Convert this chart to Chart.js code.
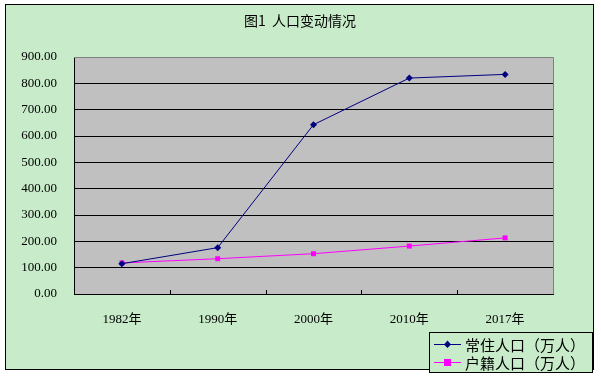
<!DOCTYPE html>
<html>
<head>
<meta charset="utf-8">
<script src="https://cdn.jsdelivr.net/npm/chart.js@4"></script>
<style>
  html, body { margin: 0; padding: 0; background: #ffffff; }
  #wrap { position: relative; width: 601px; height: 376px; }
</style>
</head>
<body>
<div id="wrap"><canvas id="line-chart_pop" width="601" height="376"></canvas></div>
<script>
// 데이터
var years = ["1982年", "1990年", "2000年", "2010年", "2017年"];
var residentPop = [115, 176, 643, 820, 834];   // 常住人口（万人）
var registeredPop = [118, 134, 153, 182, 213]; // 户籍人口（万人）
var yTicks = [0, 100, 200, 300, 400, 500, 600, 700, 800, 900];
var chartTitle = "图1  人口变动情况";

var fontSerif = "'Liberation Serif', 'Noto Sans CJK SC', serif";
var fontCjk = "'Noto Sans CJK SC', sans-serif";

// 배경, 테두리, 범례 직접 그리기
var framePlugin = {
    id: 'frame',
    beforeDraw: function (chart) {
        var ctx = chart.ctx;
        var a = chart.chartArea;
        ctx.save();
        ctx.fillStyle = '#ffffff';
        ctx.fillRect(0, 0, chart.width, chart.height);
        ctx.fillStyle = '#c8ecca';
        ctx.fillRect(5, 4, 588, 365);
        ctx.strokeStyle = '#000000';
        ctx.lineWidth = 1;
        ctx.strokeRect(5.5, 4.5, 588, 365);
        ctx.fillStyle = '#c0c0c0';
        ctx.fillRect(a.left, a.top, a.right - a.left, a.bottom - a.top);
        // 제목
        ctx.fillStyle = '#000000';
        ctx.font = '14px ' + fontCjk;
        ctx.textAlign = 'center';
        ctx.textBaseline = 'middle';
        ctx.fillText(chartTitle, 300, 21);
        ctx.restore();
    },
    afterDraw: function (chart) {
        var ctx = chart.ctx;
        var a = chart.chartArea;
        var xs = chart.scales.x;
        ctx.save();
        // 오른쪽, 위쪽 테두리 (회색)
        ctx.strokeStyle = '#808080';
        ctx.lineWidth = 1;
        ctx.beginPath();
        ctx.moveTo(a.left, a.top + 0.5);
        ctx.lineTo(a.right + 0.5, a.top + 0.5);
        ctx.lineTo(a.right + 0.5, a.bottom);
        ctx.stroke();
        // x축 안쪽 눈금
        ctx.strokeStyle = '#000000';
        var step = (a.right - a.left) / years.length;
        ctx.beginPath();
        for (var i = 1; i < years.length; i++) {
            var px = Math.round(a.left + step * i) + 0.5;
            ctx.moveTo(px, a.bottom);
            ctx.lineTo(px, a.bottom - 4);
        }
        ctx.stroke();

        // 범례
        var bx = 429, by = 332, bw = 163, bh = 40;
        ctx.fillStyle = '#c8ecca';
        ctx.fillRect(bx, by, bw, bh);
        ctx.strokeStyle = '#000000';
        ctx.strokeRect(bx + 0.5, by + 0.5, bw, bh);
        ctx.font = '15px ' + fontCjk;
        ctx.textAlign = 'left';
        ctx.textBaseline = 'middle';
        chart.data.datasets.forEach(function (ds, k) {
            var ly = by + 12 + k * 18;
            ctx.strokeStyle = ds.borderColor;
            ctx.lineWidth = 1;
            ctx.beginPath();
            ctx.moveTo(434, ly + 0.5);
            ctx.lineTo(461, ly + 0.5);
            ctx.stroke();
            ctx.fillStyle = ds.borderColor;
            if (ds.pointStyle === 'rect') {
                ctx.fillRect(444, ly - 3, 7, 7);
            } else {
                ctx.beginPath();
                ctx.moveTo(447.5, ly - 3.5);
                ctx.lineTo(451, ly + 0.5);
                ctx.lineTo(447.5, ly + 4);
                ctx.lineTo(444, ly + 0.5);
                ctx.closePath();
                ctx.fill();
            }
            ctx.fillStyle = '#000000';
            ctx.fillText(ds.label, 465, ly + 1);
        });
        ctx.restore();
    }
};

var Chart_line_pop = new Chart(document.getElementById("line-chart_pop"), {
    type: 'line',
    data: {
        labels: years,
        datasets: [{
            label: "常住人口（万人）",
            data: residentPop,
            borderColor: "#000080",
            backgroundColor: "#000080",
            borderWidth: 1,
            pointStyle: 'rectRot',
            pointRadius: 3.5,
            pointBorderWidth: 0,
            tension: 0,
            fill: false
        }, {
            label: "户籍人口（万人）",
            data: registeredPop,
            borderColor: "#ff00ff",
            backgroundColor: "#ff00ff",
            borderWidth: 1,
            pointStyle: 'rect',
            pointRadius: 3.5,
            pointBorderWidth: 0,
            tension: 0,
            fill: false
        }]
    },
    options: {
        responsive: false,
        animation: false,
        layout: { padding: { left: 0, right: 48, top: 57, bottom: 0 } },
        plugins: {
            legend: { display: false },
            title: { display: false },
            tooltip: { enabled: false }
        },
        scales: {
            x: {
                offset: true,
                afterFit: function (scale) { scale.height = 82; },
                grid: { display: false },
                border: { display: true, color: '#000000', width: 1 },
                ticks: {
                    color: '#000000',
                    padding: 10,
                    maxRotation: 0,
                    font: { family: fontSerif, size: 13 }
                }
            },
            y: {
                min: 0,
                max: 900,
                afterFit: function (scale) { scale.width = 74; },
                afterBuildTicks: function (scale) {
                    scale.ticks = yTicks.map(function (v) { return { value: v }; });
                },
                grid: {
                    drawTicks: false,
                    color: function (c) { return c.tick && c.tick.value === 900 ? '#808080' : '#000000'; },
                    lineWidth: 1
                },
                border: { display: true, color: '#000000', width: 1 },
                ticks: {
                    color: '#000000',
                    padding: 17,
                    font: { family: fontSerif, size: 13 },
                    callback: function (v) { return Number(v).toFixed(2); }
                }
            }
        }
    },
    plugins: [framePlugin]
});
</script>
</body>
</html>
